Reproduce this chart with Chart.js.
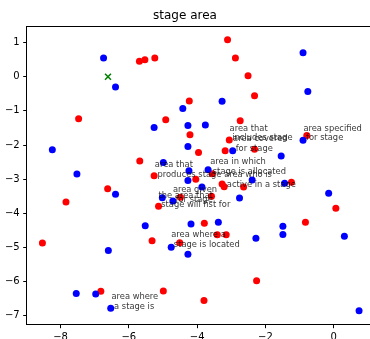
<!DOCTYPE html>
<html>
<head>
<meta charset="utf-8">
<script src="https://cdn.jsdelivr.net/npm/chart.js@4/dist/chart.umd.min.js"></script>
<style>
  html, body { margin: 0; padding: 0; background: #fff; overflow: hidden; }
  canvas { display: block; }
</style>
</head>
<body>
<canvas id="stageChart" width="370" height="339"></canvas>
<script>
// points
const redX = [-5.69, -5.53, -5.24, -3.11, -2.88, -2.51, -2.32, -4.23, -7.47, -4.92, -2.74, -4.21, -3.96, -3.18, -3.06, -2.32, -0.79, -5.68, -5.26, -3.56, -4.04, -3.27, -3.21, -2.64, -1.24, -6.62, -7.84, -4.49, -3.58, -5.13, 0.06, -3.79, -0.83, -8.53, -5.32, -4.51, -3.41, -3.15, -2.26, -6.82, -4.99, -3.80];
const redY = [0.45, 0.50, 0.55, 1.08, 0.55, 0.03, -0.56, -0.71, -1.23, -1.26, -1.29, -1.70, -2.22, -2.17, -1.85, -2.12, -1.72, -2.47, -2.90, -2.84, -3.00, -3.14, -3.22, -3.23, -3.09, -3.28, -3.67, -3.53, -3.50, -3.79, -3.85, -4.29, -4.26, -4.87, -4.80, -4.86, -4.63, -4.63, -5.97, -6.28, -6.27, -6.55];

const blueX = [-6.74, -6.39, -0.90, -0.76, -4.42, -3.27, -5.26, -4.27, -3.76, -4.27, -2.96, -1.54, -0.90, -8.24, -7.52, -4.99, -4.24, -3.68, -4.27, -3.86, -2.39, -1.44, -6.39, -5.02, -4.71, -2.76, -0.15, -5.52, -4.18, -3.38, -1.49, -4.76, -4.27, -2.28, -1.49, 0.31, -6.60, -7.54, -6.97, -6.53, 0.74];
const blueY = [0.55, -0.30, 0.70, -0.43, -0.93, -0.72, -1.49, -1.43, -1.41, -2.04, -2.17, -2.32, -1.86, -2.14, -2.85, -2.51, -2.75, -2.72, -3.04, -3.23, -3.02, -3.12, -3.44, -3.54, -3.64, -3.55, -3.41, -4.36, -4.31, -4.26, -4.38, -4.99, -5.20, -4.73, -4.62, -4.67, -5.09, -6.35, -6.36, -6.78, -6.85];

const markX = [-6.61];
const markY = [0.0];

// text labels: anchor = left edge / first-line baseline
const labelX = [-3.05, -2.95, -0.89, -5.24, -3.62, -3.21, -4.71, -5.13, -4.76, -6.51];
const labelY = [-1.58, -1.89, -1.58, -2.64, -2.56, -2.93, -3.37, -3.54, -4.69, -6.52];
const labelText = [
  ["area that", " includes stage"],
  ["area covered", " for stage"],
  ["area specified", " for stage"],
  ["area that", " produces stage"],
  ["area in which", " stage is allocated"],
  ["area who is", " active in a stage"],
  ["area given", " for stage"],
  ["the area that", " stage will fist for"],
  ["area where a", " stage is located"],
  ["area where", " a stage is"],
];

const xTicks = [-8, -6, -4, -2, 0];
const yTicks = [-7, -6, -5, -4, -3, -2, -1, 0, 1];

function toPoints(xs, ys) {
  return xs.map((x, i) => ({ x: x, y: ys[i] }));
}

function fmt(v) {
  return v < 0 ? "\u2212" + Math.abs(v) : String(v);
}

Chart.defaults.font.family = "'DejaVu Sans', sans-serif";
Chart.defaults.color = "#000";

// top spine and the text labels (right spine falls just off the canvas)
const framePlugin = {
  id: "frame",
  afterDatasetsDraw(chart) {
    const ctx = chart.ctx;
    const a = chart.chartArea;
    const xs = chart.scales.x;
    const ys = chart.scales.y;
    ctx.save();
    ctx.strokeStyle = "#000";
    ctx.lineWidth = 1;
    ctx.beginPath();
    ctx.moveTo(a.left, a.top + 0.5);
    ctx.lineTo(a.right, a.top + 0.5);
    ctx.stroke();

    ctx.font = "8.33px 'DejaVu Sans'";
    ctx.fillStyle = "rgba(0,0,0,0.8)";
    ctx.textAlign = "left";
    ctx.textBaseline = "alphabetic";
    labelText.forEach((lines, i) => {
      const px = xs.getPixelForValue(labelX[i]);
      const py = ys.getPixelForValue(labelY[i]);
      lines.forEach((t, j) => ctx.fillText(t, px, py + j * 9.8));
    });
    ctx.restore();
  },
};

const ctxStage = document.getElementById("stageChart").getContext("2d");
const stageChart = new Chart(ctxStage, {
  type: "scatter",
  data: {
    datasets: [
      {
        label: "mark",
        data: toPoints(markX, markY),
        pointStyle: "crossRot",
        pointRadius: 4.2,
        borderColor: "green",
        borderWidth: 1.5,
      },
      {
        label: "blue",
        data: toPoints(blueX, blueY),
        backgroundColor: "#0000ff",
        borderColor: "#0000ff",
        borderWidth: 0,
        pointRadius: 3.5,
      },
      {
        label: "red",
        data: toPoints(redX, redY),
        backgroundColor: "#ff0000",
        borderColor: "#ff0000",
        borderWidth: 0,
        pointRadius: 3.5,
      },
    ],
  },
  options: {
    responsive: false,
    animation: false,
    layout: { padding: 0, autoPadding: false },
    scales: {
      x: {
        type: "linear",
        min: -8.99,
        max: 1.06,
        afterBuildTicks: (s) => { s.ticks = xTicks.map((v) => ({ value: v })); },
        afterFit: (s) => { s.height = 14.3; },
        grid: { drawOnChartArea: false, tickLength: 3.5, tickColor: "#000", tickWidth: 1 },
        border: { color: "#000", width: 1 },
        ticks: { padding: 3, maxRotation: 0, font: { size: 10 }, callback: (v) => fmt(v) },
      },
      y: {
        type: "linear",
        min: -7.26,
        max: 1.485,
        afterBuildTicks: (s) => { s.ticks = yTicks.map((v) => ({ value: v })); },
        afterFit: (s) => { s.width = 26.7; },
        grid: { drawOnChartArea: false, tickLength: 3.5, tickColor: "#000", tickWidth: 1 },
        border: { color: "#000", width: 1 },
        ticks: { padding: 3.5, font: { size: 10 }, callback: (v) => fmt(v) },
      },
    },
    plugins: {
      legend: { display: false },
      tooltip: { enabled: false },
      title: {
        display: true,
        text: "stage area",
        color: "#000",
        font: { size: 12, weight: "normal" },
        padding: { top: 9, bottom: 2.6 },
      },
    },
  },
  plugins: [framePlugin],
});
</script>
</body>
</html>
